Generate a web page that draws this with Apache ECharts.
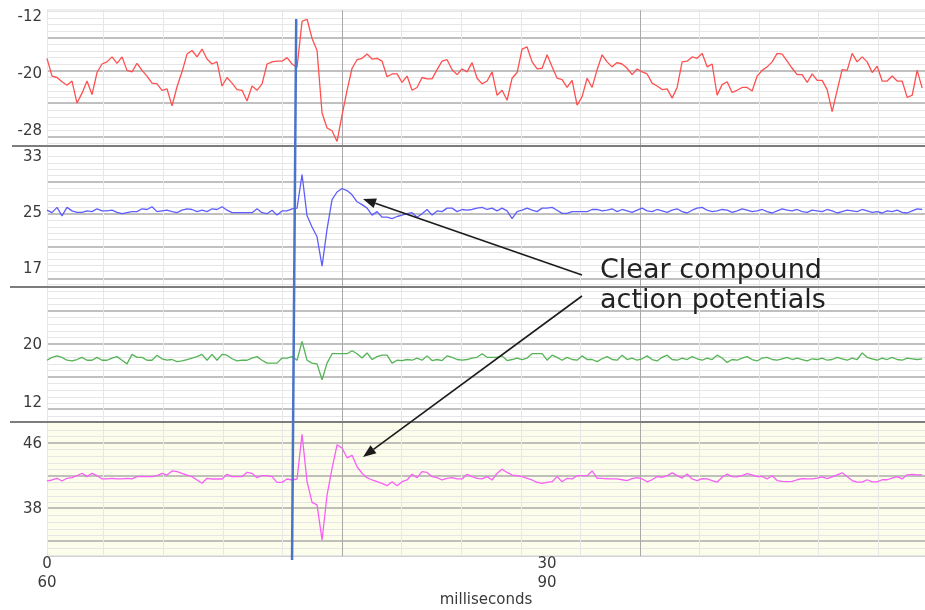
<!DOCTYPE html>
<html><head><meta charset="utf-8">
<script src="https://cdn.jsdelivr.net/npm/echarts@6/dist/echarts.min.js"></script>
<style>html,body{margin:0;padding:0;background:#fff}#c{width:925px;height:610px}</style>
</head><body><div id="c"></div>
<script>
// ---- data (time in ms from sweep start, one sample every 0.3 ms) ----
const timeMs = [
0,0.3,0.6,0.9,1.2,1.5,1.8,2.1,2.4,2.7,
3,3.3,3.6,3.9,4.2,4.5,4.8,5.1,5.4,5.7,
6,6.3,6.6,6.9,7.2,7.5,7.8,8.1,8.4,8.7,
9,9.3,9.6,9.9,10.2,10.5,10.8,11.1,11.4,11.7,
12,12.3,12.6,12.9,13.2,13.5,13.8,14.1,14.4,14.7,
15,15.3,15.6,15.9,16.2,16.5,16.8,17.1,17.4,17.7,
18,18.3,18.6,18.9,19.2,19.5,19.8,20.1,20.4,20.7,
21,21.3,21.6,21.9,22.2,22.5,22.8,23.1,23.4,23.7,
24,24.3,24.6,24.9,25.2,25.5,25.8,26.1,26.4,26.7,
27,27.3,27.6,27.9,28.2,28.5,28.8,29.1,29.4,29.7,
30,30.3,30.6,30.9,31.2,31.5,31.8,32.1,32.4,32.7,
33,33.3,33.6,33.9,34.2,34.5,34.8,35.1,35.4,35.7,
36,36.3,36.6,36.9,37.2,37.5,37.8,38.1,38.4,38.7,
39,39.3,39.6,39.9,40.2,40.5,40.8,41.1,41.4,41.7,
42,42.3,42.6,42.9,43.2,43.5,43.8,44.1,44.4,44.7,
45,45.3,45.6,45.9,46.2,46.5,46.8,47.1,47.4,47.7,
48,48.3,48.6,48.9,49.2,49.5,49.8,50.1,50.4,50.7,
51,51.3,51.6,51.9,52.2,52.5];

const traceRed = [
-17.8,-20.3,-20.5,-21.1,-21.6,-21,-24.1,-22.7,-21,-22.9,
-19.8,-18.6,-18.3,-17.6,-18.5,-17.6,-19.5,-19.7,-18.5,-19.5,
-20.3,-21.3,-21.4,-22.3,-22.1,-24.5,-21.8,-19.7,-17.2,-16.7,
-17.6,-16.5,-17.9,-18.6,-18.3,-21.7,-20.5,-21.3,-22.2,-22.3,
-23.8,-21.7,-22.3,-21.4,-18.6,-18.3,-18.2,-18.2,-17.7,-18.6,
-19.1,-12.6,-12.3,-15,-16.7,-25.5,-27.6,-28,-29.5,-25.8,
-22.3,-19.2,-18,-17.8,-17.2,-17.9,-17.8,-18.2,-20.4,-20,
-20,-21.2,-20.3,-22.3,-21.9,-20.5,-20.7,-20.7,-19.4,-18.2,
-18,-19.4,-20.1,-19.3,-19.7,-18.4,-20.6,-21.4,-21,-19.7,
-23,-22.3,-23.7,-20.6,-19.8,-16.5,-16.2,-18.3,-19.3,-19.2,
-17.3,-19,-20.6,-20.8,-21.9,-20.9,-24.4,-23.2,-20.6,-21.9,
-19.4,-17.3,-18.3,-19,-18.4,-18.6,-19.2,-20.1,-19.3,-19.7,
-20,-21.3,-21.7,-22.2,-22.1,-23.4,-21.9,-18.3,-18.2,-17.6,
-17.8,-17.1,-19,-18.6,-23,-21.5,-21.1,-22.6,-22.3,-21.9,
-21.9,-22.4,-20.3,-19.5,-19,-18.3,-17.1,-17.2,-18.2,-19.2,
-20.1,-20.1,-21.2,-20,-20.9,-20.9,-22.2,-25.3,-22.3,-19.4,
-19.5,-17.1,-18.3,-17.6,-18.3,-19.8,-18.9,-21,-21,-20.3,
-21,-21,-23.3,-23,-19.5,-22];

const traceBlue = [
25.4,25.05,25.8,24.6,25.8,25.3,25.1,25.1,25.3,25.2,
25.6,25.3,25.3,25.4,25.1,24.9,25.05,25.2,25.2,25.6,
25.5,25.9,25.2,25.3,25.4,25.2,25.05,25.4,25.6,25.5,
25.2,25.4,25.2,25.6,25.5,25.9,25.4,25.05,25.05,25.05,
25.05,25.05,25.6,25.05,24.9,25.4,24.7,25.3,25.3,25.6,
25.7,30.5,24.6,23,21.6,17.4,22.7,26.9,28,28.5,
28.2,27.6,26.6,26.2,25.7,24.7,25.2,24.4,24.4,24.2,
24.5,24.7,24.9,25.05,24.4,24.9,25.5,24.7,25.3,25.2,
25.7,25.7,25.2,25.5,25.4,25.5,25.7,25.8,25.5,25.7,
25.3,25.7,25.3,24.2,25.2,25.4,25.7,25.4,25.2,25.7,
25.7,25.8,25.4,24.95,24.95,25.2,25.2,25.2,25.2,25.5,
25.5,25.3,25.4,25.6,25.2,25.5,25.3,25.1,25.4,25.7,
25.3,25.2,25.5,25.3,25.1,25.4,25.6,25.2,25.0,25.4,
25.7,25.8,25.4,25.2,25.3,25.5,25.4,25.1,25.3,25.6,
25.4,25.2,25.3,25.5,25.2,25.0,25.3,25.6,25.4,25.3,
25.5,25.2,25.1,25.4,25.3,25.2,25.5,25.3,25.0,25.2,
25.4,25.3,25.2,25.5,25.3,25.1,25.2,25.0,25.3,25.2,
25.4,25.1,25.0,25.3,25.6,25.5];

const traceGreen = [
17.9,18.3,18.5,18.3,17.9,17.8,18.0,18.3,17.9,17.9,
18.3,17.9,17.9,18.2,18.4,17.9,17.4,18.7,18.3,18.3,
17.9,17.9,18.6,18.1,17.9,18.0,17.7,17.8,18.0,18.2,
18.4,18.7,17.9,18.7,17.9,18.7,18.6,18.1,17.8,17.9,
17.9,18.2,18.4,17.9,17.5,17.5,17.5,18.2,18.2,18.4,
17.9,20.5,17.9,17.5,17.4,15.2,17.5,18.8,18.8,18.8,
18.8,19.2,18.8,18.2,18.9,18.0,18.4,18.6,18.6,17.5,
17.9,17.85,18.0,17.9,18.2,17.9,18.5,17.85,18.0,17.85,
18.5,18.3,18.0,17.9,18.0,18.2,18.3,18.8,18.3,18.3,
18.3,18.5,17.85,18.0,18.2,18.0,18.2,18.8,18.8,18.8,
17.9,18.6,18.3,17.9,18.3,18.0,17.9,18.5,18.0,18.0,
17.7,18.1,18.4,18.0,17.9,18.6,18.0,18.2,17.9,18.1,
18.5,18.0,17.8,18.3,18.6,18.0,17.9,18.2,18.0,18.4,
18.1,17.9,18.2,18.0,18.6,18.2,17.6,18.0,17.9,18.2,
18.4,18.0,17.8,18.2,18.3,18.0,17.9,18.1,18.3,18.0,
18.2,18.0,17.8,18.1,18.0,18.2,17.9,18.0,18.3,18.1,
17.9,18.2,18.0,18.9,18.3,18.1,17.9,18.2,18.0,18.3,
18.0,17.9,18.2,18.1,18.0,18.1];

const tracePink = [
41.45,41.57,41.78,41.45,41.78,41.85,42.1,42.4,41.98,42.39,
42.1,41.7,41.7,41.78,41.7,41.7,41.78,41.7,41.98,41.98,
41.98,41.98,42.1,42.39,42.18,42.68,42.6,42.39,42.18,41.98,
41.57,41.16,41.78,41.69,41.69,41.69,42.27,41.98,41.98,41.98,
42.51,42.39,41.85,42.1,42.1,41.98,41.28,41.28,41.69,41.57,
41.69,47.2,41.36,38.82,38.5,34.2,39.7,43.0,45.9,45.5,
44.3,44.6,43.2,42.4,41.85,41.57,41.36,41.16,40.87,41.36,
40.87,41.36,41.57,42.27,41.85,42.6,42.5,41.98,41.85,41.57,
41.78,41.85,41.7,41.7,42.27,41.98,41.78,41.7,41.98,41.57,
42.39,42.9,42.5,42.18,42.1,41.98,41.78,41.57,41.28,41.16,
41.28,41.36,41.98,41.36,41.78,41.7,42.1,42.1,42.1,42.68,
41.78,41.78,41.7,41.7,41.7,41.6,41.5,41.75,41.85,41.7,
41.35,41.6,42.0,41.9,42.1,42.45,42.1,41.8,42.3,41.7,
41.5,41.75,41.7,41.5,41.3,41.9,42.3,41.98,41.95,42.1,
42.35,42.2,41.98,42.0,41.7,42.1,41.5,41.4,41.36,41.4,
41.6,41.75,41.7,41.7,41.8,41.95,41.75,41.95,42.2,42.45,
42.0,41.5,41.3,41.3,41.6,41.35,41.35,41.6,41.6,41.8,
41.98,41.7,42.2,42.27,42.2,42.2];

// tick labels
const yLabelsRed = [-12, -20, -28];
const yLabelsBlue = [33, 25, 17];
const yLabelsGreen = [20, 12];
const yLabelsPink = [46, 38];
const xLabelsRelative = [0, 30];
const xLabelsAbsolute = [60, 90];
const xTitle = 'milliseconds';
const noteLines = ['Clear compound', 'action potentials'];
// stimulus marker (ms) at top / bottom of its drawn line
const stimTopMs = 14.95, stimBottomMs = 14.7;

// ---- layout / style ----
const FONT = 'DejaVu Sans';
const LEFT = 47;
const X_MAX = 52.67;
const panels = [
  {data: traceRed,   color: '#ff4f4f', top: 10,  height: 135, min: -30,   max: -11,   labels: yLabelsRed,   major: [-14.93, -19.58, -24.08, -28.87]},
  {data: traceBlue,  color: '#5e5eff', top: 146, height: 141, min: 14.43, max: 34.57, labels: yLabelsBlue,  major: [29.43, 24.86, 20.14, 15.57]},
  {data: traceGreen, color: '#55b455', top: 287, height: 135, min: 9.38,  max: 28.0,  labels: yLabelsGreen, major: [24.69, 20.14, 15.59, 11.17]},
  {data: tracePink,  color: '#f75ff7', top: 423, height: 133, min: 32.22, max: 48.58, labels: yLabelsPink,  major: [46.12, 42.06, 38.12, 34.06], bg: '#fdfdeb'}
];
// vertical grid positions (ms)
const vMajorStart = 17.7, vMinorStep = 3.574;
const vDark = [], vLight = [0];
for (let k = -4; k <= 10; k++) {
  const v = +(vMajorStart + k * vMinorStep).toFixed(3);
  if (v <= 0 || v >= X_MAX) continue;
  (k % 5 === 0 ? vDark : vLight).push(v);
}

const grids = [], xAxes = [], yAxes = [], series = [];
const hidden = {axisLine: {show: false}, axisTick: {show: false}, axisLabel: {show: false}};
panels.forEach((p, i) => {
  grids.push({left: LEFT, right: 0, top: p.top, height: p.height, show: !!p.bg, backgroundColor: p.bg || 'transparent', borderWidth: 0});
  xAxes.push(Object.assign({type: 'value', gridIndex: i, min: 0, max: X_MAX, position: 'bottom'}, hidden,
    {axisTick: {show: false, customValues: vLight}, splitLine: {show: true, lineStyle: {color: '#e7e7e7', width: 1}}}));
  xAxes.push(Object.assign({type: 'value', gridIndex: i, min: 0, max: X_MAX, position: 'bottom'}, hidden,
    {axisTick: {show: false, customValues: vDark}, splitLine: {show: true, lineStyle: {color: '#a9a9a9', width: 1}}}));
  // minor horizontal lines
  const step = (p.major[0] - p.major[1]) / 5;
  const minor = [];
  for (let k = -15; k <= 30; k++) {
    const v = +(p.major[0] - k * step).toFixed(3);
    if (v > p.min + 0.05 && v < p.max - 0.05 && k % 5 !== 0) minor.push(v);
  }
  yAxes.push({type: 'value', gridIndex: i, min: p.min, max: p.max,
    axisLine: {show: false}, axisTick: {show: false},
    axisLabel: {show: true, customValues: p.labels, fontFamily: FONT, fontSize: 15, color: '#3a3a3a', margin: 5},
    splitLine: {show: false}});
  yAxes.push(Object.assign({type: 'value', gridIndex: i, min: p.min, max: p.max}, hidden,
    {axisTick: {show: false, customValues: minor}, splitLine: {show: true, lineStyle: {color: '#e6e6e6', width: 1}}}));
  yAxes.push(Object.assign({type: 'value', gridIndex: i, min: p.min, max: p.max}, hidden,
    {axisTick: {show: false, customValues: p.major}, splitLine: {show: true, lineStyle: {color: '#ababab', width: 1.5}}}));
  series.push({type: 'line', xAxisIndex: 2 * i, yAxisIndex: 3 * i, showSymbol: false, symbol: 'none',
    lineStyle: {color: p.color, width: 1.3}, itemStyle: {color: p.color}, z: 5,
    data: timeMs.map((t, j) => [t, p.data[j]])});
});
// bottom labelled axes
xAxes.push({type: 'value', gridIndex: 3, min: 0, max: X_MAX, position: 'bottom',
  axisLine: {show: true, lineStyle: {color: '#d2d2d2', width: 1}}, axisTick: {show: false},
  axisLabel: {customValues: xLabelsRelative, fontFamily: FONT, fontSize: 15, color: '#3a3a3a', margin: 1},
  splitLine: {show: false},
  name: xTitle, nameLocation: 'middle', nameGap: 37, nameTextStyle: {fontFamily: FONT, fontSize: 15, color: '#3a3a3a'}});
xAxes.push({type: 'value', gridIndex: 3, min: 60, max: 60 + X_MAX, position: 'bottom', offset: 19,
  axisLine: {show: false}, axisTick: {show: false},
  axisLabel: {customValues: xLabelsAbsolute, fontFamily: FONT, fontSize: 15, color: '#3a3a3a', margin: 1},
  splitLine: {show: false}});

const chart = echarts.init(document.getElementById('c'), null, {renderer: 'canvas'});
chart.setOption({animation: false, backgroundColor: '#fff', grid: grids, xAxis: xAxes, yAxis: yAxes, series: series});

// annotations
const sx1 = chart.convertToPixel({xAxisIndex: 0}, stimTopMs);
const sx2 = chart.convertToPixel({xAxisIndex: 6}, stimBottomMs);
function arrow(x1, y1, x2, y2) {
  const ang = Math.atan2(y2 - y1, x2 - x1), L = 13, W = 5;
  const bx = x2 - L * Math.cos(ang), by = y2 - L * Math.sin(ang);
  const nx = -Math.sin(ang) * W, ny = Math.cos(ang) * W;
  return [
    {type: 'line', shape: {x1: x1, y1: y1, x2: bx, y2: by}, style: {stroke: '#1c1c1c', lineWidth: 1.6}, z: 20},
    {type: 'polygon', shape: {points: [[x2, y2], [bx + nx, by + ny], [bx - nx, by - ny]]}, style: {fill: '#1c1c1c'}, z: 20}
  ];
}
const sep = (y, x0) => ({type: 'line', shape: {x1: x0, y1: y, x2: 925, y2: y}, style: {stroke: '#7d7d7d', lineWidth: 2}, z: 10});
const graphic = [
  {type: 'line', shape: {x1: LEFT, y1: 10, x2: 925, y2: 10}, style: {stroke: '#dcdcdc', lineWidth: 1}, z: 10},
  sep(146, 12), sep(287, 10), sep(422, 10),
  {type: 'line', shape: {x1: sx1, y1: 19, x2: sx2, y2: 560}, style: {stroke: '#4a74c8', lineWidth: 2.5}, z: 15},
  ...arrow(582, 275, 363, 199),
  ...arrow(582, 296, 363, 457),
  {type: 'text', x: 600, y: 271, style: {text: noteLines[0], font: '27px "DejaVu Sans"', fill: '#222', verticalAlign: 'middle', align: 'left'}, z: 20},
  {type: 'text', x: 600, y: 301, style: {text: noteLines[1], font: '27px "DejaVu Sans"', fill: '#222', verticalAlign: 'middle', align: 'left'}, z: 20}
];
chart.setOption({graphic: graphic});
</script>
</body></html>
